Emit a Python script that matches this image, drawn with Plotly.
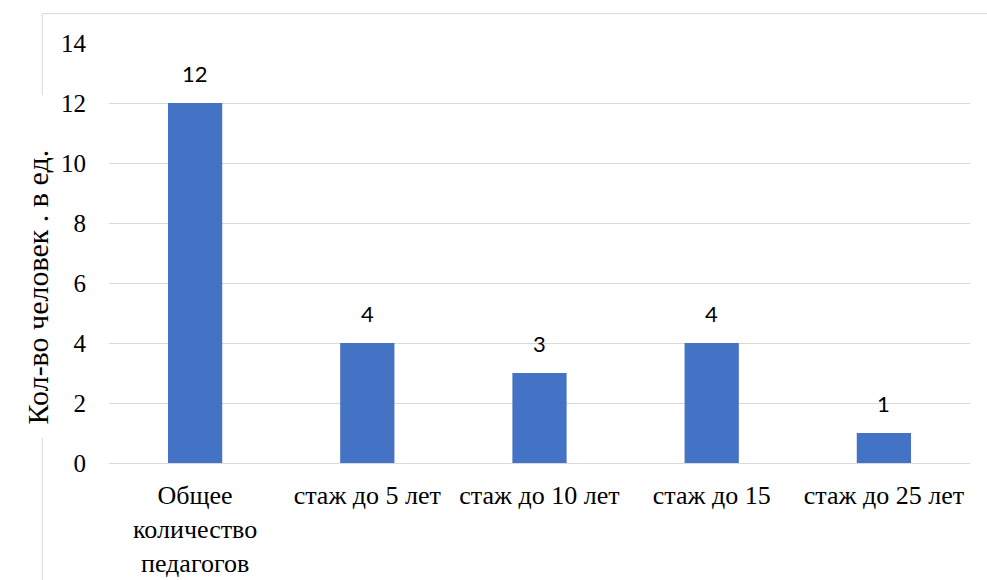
import plotly.graph_objects as go

# Teaching staff by length of service
categories = ["Общее<br>количество<br>педагогов", "стаж до 5 лет", "стаж до 10 лет",
              "стаж до 15", "стаж до 25 лет"]
counts = [12, 4, 3, 4, 1]
y_ticks = [0, 2, 4, 6, 8, 10, 12, 14]
y_title = "Кол-во человек . в ед."

serif = "'Times New Roman', 'Liberation Serif', serif"
sans = "Lato, 'Open Sans', sans-serif"

fig = go.Figure()
fig.add_trace(go.Bar(
    x=categories, y=counts,
    marker=dict(color="#4472c4", line=dict(width=0)),
    width=0.315,
    hoverinfo="skip",
))

# Value labels above each bar
for c, v in zip(categories, counts):
    fig.add_annotation(x=c, y=v, text=str(v), showarrow=False,
                       yanchor="bottom", yshift=14,
                       font=dict(family=sans, size=22, color="#000000"))

# Rotated y-axis title, set slightly below the plot's vertical centre
fig.add_annotation(xref="paper", yref="paper", x=-0.0836, y=0.418,
                   text=y_title, textangle=-90, showarrow=False,
                   xanchor="center", yanchor="middle",
                   font=dict(family=serif, size=30, color="#000000"))

# Outer chart frame (top edge and left edge, broken by the axis title)
frame = dict(color="#d9d9d9", width=1)
fig.add_shape(type="line", xref="paper", yref="paper",
              x0=-0.0775, x1=1.03, y0=1.07, y1=1.07, line=frame)
fig.add_shape(type="line", xref="paper", yref="paper",
              x0=-0.0775, x1=-0.0775, y0=1.07, y1=0.876, line=frame)
fig.add_shape(type="line", xref="paper", yref="paper",
              x0=-0.0775, x1=-0.0775, y0=0.06, y1=-0.28, line=frame)

fig.update_layout(
    width=987, height=580,
    margin=dict(l=109, r=17, t=43, b=117),
    paper_bgcolor="white", plot_bgcolor="white",
    showlegend=False,
    font=dict(family=serif),
    xaxis=dict(
        showgrid=False, zeroline=False, showline=False, ticks="",
        ticklabelstandoff=14, automargin=False,
        tickfont=dict(family=serif, size=26, color="#000000"),
    ),
    yaxis=dict(
        range=[0, 14], tickvals=y_ticks, automargin=False,
        showgrid=True, gridcolor="#d9d9d9", gridwidth=1,
        zeroline=True, zerolinecolor="#d9d9d9", zerolinewidth=1,
        showline=False, ticks="", ticklabelstandoff=22,
        tickfont=dict(family=serif, size=25, color="#000000"),
    ),
)

fig.write_html("out.html")
